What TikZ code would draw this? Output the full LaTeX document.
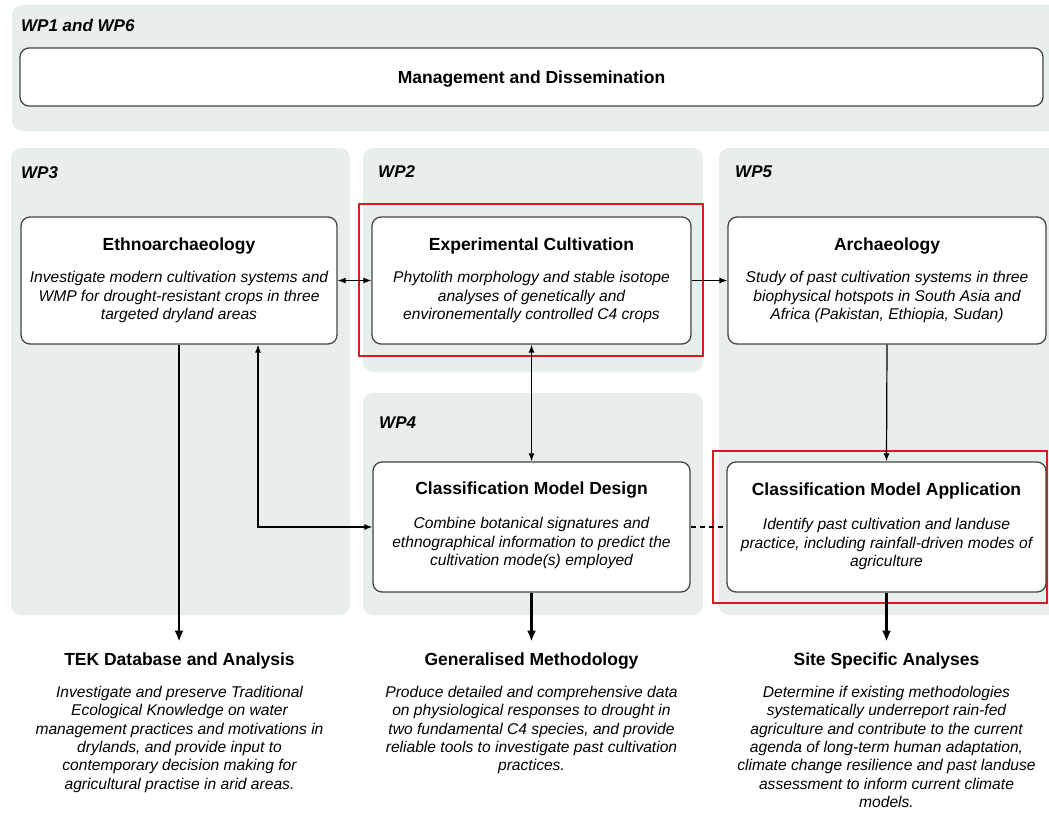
\documentclass[tikz,border=0pt]{standalone}
\usepackage{fontspec}
\setmainfont{Liberation Sans}
\usetikzlibrary{arrows.meta}
\definecolor{panelc}{RGB}{232,237,238}
\definecolor{boxline}{RGB}{70,70,70}
\definecolor{redc}{RGB}{212,28,34}
\begin{document}
\begin{tikzpicture}[x=1pt,y=-1pt,
  panel/.style={fill=panelc, rounded corners=10pt},
  wpbox/.style={draw=boxline, line width=1.3pt, fill=white, rounded corners=9pt, inner sep=0pt},
  ttl/.style={font=\fontsize{17.5}{20}\selectfont\bfseries, inner sep=0pt},
  dsc/.style={font=\fontsize{15.6}{18.5}\selectfont\itshape, align=center, inner sep=0pt, anchor=north},
  bdsc/.style={font=\fontsize{15.6}{18.3}\selectfont\itshape, align=center, inner sep=0pt, anchor=north},
  wpl/.style={font=\fontsize{17}{20}\selectfont\bfseries\itshape, anchor=west, inner sep=0pt},
  thinarrow/.style={line width=1.2pt, -{Latex[length=8pt,width=6pt]}},
  thinboth/.style={line width=1.2pt, {Latex[length=8pt,width=6pt]}-{Latex[length=8pt,width=6pt]}},
  thickarrow/.style={line width=2.6pt, -{Latex[length=11pt,width=9pt]}, shorten >=11pt},
  redbox/.style={draw=redc, line width=2.6pt},
  dashline/.style={line width=1.2pt, dash pattern=on 5pt off 4pt}
]
\useasboundingbox (0,0) rectangle (1049,816);
\fill[white] (0,0) rectangle (1049,816);

% panels
\fill[panel] (12,5) rectangle (1065,131);
\fill[panel] (11,148) rectangle (350,615);
\fill[panel] (363,148) rectangle (703,372);
\fill[panel] (363,393) rectangle (703,615);
\fill[panel] (719,148) rectangle (1065,615);

% WP labels
\node[wpl] (wp16) at (21,25) {WP1 and WP6};
\node[wpl] (wp3) at (21,173) {WP3};
\node[wpl] (wp2) at (378,172) {WP2};
\node[wpl] (wp5) at (735,172) {WP5};
\node[wpl] (wp4) at (379,423) {WP4};

% management
\node[wpbox, minimum width=1023pt, minimum height=58pt] (mgmt) at (531.5,77) {};
\node[ttl] (mgmtT) at (531.5,79) {Management and Dissemination};

% red highlight boxes
\draw[redbox] (359,204) rectangle (703,356);
\draw[redbox] (713,451) rectangle (1047,603);

% top row boxes
\node[wpbox, minimum width=316pt, minimum height=127pt] (ethno) at (179,280.5) {};
\node[wpbox, minimum width=319pt, minimum height=127pt] (exp) at (531.5,280.5) {};
\node[wpbox, minimum width=318pt, minimum height=127pt] (arch) at (887,280.5) {};

\node[ttl] (ethnoT) at (179,246) {Ethnoarchaeology};
\node[dsc] (ethnoD) at (179,271) {Investigate modern cultivation systems and\\WMP for drought-resistant crops in three\\targeted dryland areas};
\node[ttl] (expT) at (531.5,246) {Experimental Cultivation};
\node[dsc] (expD) at (531.5,271) {Phytolith morphology and stable isotope\\analyses of genetically and\\environementally controlled C4 crops};
\node[ttl] (archT) at (887,246) {Archaeology};
\node[dsc] (archD) at (887,271) {Study of past cultivation systems in three\\biophysical hotspots in South Asia and\\Africa (Pakistan, Ethiopia, Sudan)};

% second row boxes
\node[wpbox, minimum width=317pt, minimum height=130pt] (cmd) at (531.5,527) {};
\node[wpbox, minimum width=319pt, minimum height=130pt] (cma) at (886.5,527) {};

\node[ttl] (cmdT) at (531.5,490) {Classification Model Design};
\node[dsc] (cmdD) at (531.5,517) {Combine botanical signatures and\\ethnographical information to predict the\\cultivation mode(s) employed};
\node[ttl] (cmaT) at (886.5,491) {Classification Model Application};
\node[dsc] (cmaD) at (886.5,518) {Identify past cultivation and landuse\\practice, including rainfall-driven modes of\\agriculture};

% outputs
\node[ttl] (tek) at (179.5,661) {TEK Database and Analysis};
\node[bdsc] (tekD) at (179.5,686) {Investigate and preserve Traditional\\Ecological Knowledge on water\\management practices and motivations in\\drylands, and provide input to\\contemporary decision making for\\agricultural practise in arid areas.};
\node[ttl] (gen) at (531.5,661) {Generalised Methodology};
\node[bdsc] (genD) at (531.5,686) {Produce detailed and comprehensive data\\on physiological responses to drought in\\two fundamental C4 species, and provide\\reliable tools to investigate past cultivation\\practices.};
\node[ttl] (site) at (886.5,661) {Site Specific Analyses};
\node[bdsc] (siteD) at (886.5,686) {Determine if existing methodologies\\systematically underreport rain-fed\\agriculture and contribute to the current\\agenda of long-term human adaptation,\\climate change resilience and past landuse\\assessment to inform current climate\\models.};

% connectors
\draw[thinboth] (ethno.east) -- (exp.west);
\draw[thinarrow] (exp.east) -- (arch.west);
\draw[thinboth] (exp.south) -- (cmd.north);
\draw[thinarrow] (arch.south) -- (cma.north);
\coordinate (elbx) at (258,0);
\draw[thinboth] (elbx |- ethno.south) -- (elbx |- cmd.west) -- (cmd.west);
\draw[dashline] (cmd.east) -- (cma.west);

\draw[thickarrow] (ethno.south) -- (ethno.south |- tek.north);
\draw[thickarrow] (cmd.south) -- (cmd.south |- gen.north);
\draw[thickarrow] (cma.south) -- (cma.south |- site.north);
\end{tikzpicture}
\end{document}
